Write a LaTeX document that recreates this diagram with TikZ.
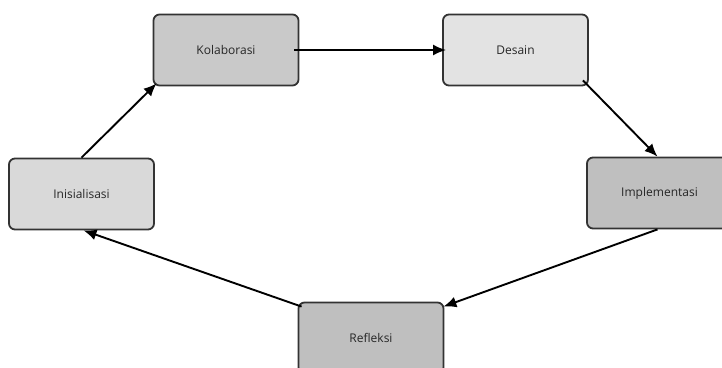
\documentclass[tikz,border=0pt]{standalone}
\usepackage{fontspec}
\setmainfont{Open Sans}
\usetikzlibrary{arrows.meta}

\begin{document}
\begin{tikzpicture}[x=1pt,y=1pt]
  \tikzstyle{stage}=[rectangle,rounded corners=6pt,draw=black!80,line width=1.8pt,minimum
  width=145pt,minimum height=71pt,inner sep=1pt,text=black!85,font=\fontsize{12}{14}\selectfont]
  \tikzstyle{link}=[draw,line width=1.9pt,-{Latex[length=13pt,width=11pt]}]
  \useasboundingbox (0,0) rectangle (722,367);
  \node[stage,fill=black!21](kol) at (226,317){Kolaborasi};
  \node[stage,fill=black!11](des) at (515.5,317){Desain};
  \node[stage,fill=black!15](ini) at (81.5,173){Inisialisasi};
  \node[stage,fill=black!25](imp) at (659.5,174){Implementasi};
  \node[stage,fill=black!25](ref) at (371,29){Refleksi};
  \path[link] (ini.north) -- ([shift={(4pt,3pt)}]kol.south west);
  \path[link] ([xshift=-5pt]kol.east) -- ([xshift=4pt]des.west);
  \path[link] ([shift={(-6pt,6pt)}]des.south east) -- ([xshift=-2pt]imp.north);
  \path[link] ([xshift=-2pt]imp.south) -- ([shift={(-1pt,-5pt)}]ref.north east);
  \path[link] ([shift={(4pt,-5pt)}]ref.north west) -- ([xshift=2pt]ini.south);
\end{tikzpicture}
\end{document}
